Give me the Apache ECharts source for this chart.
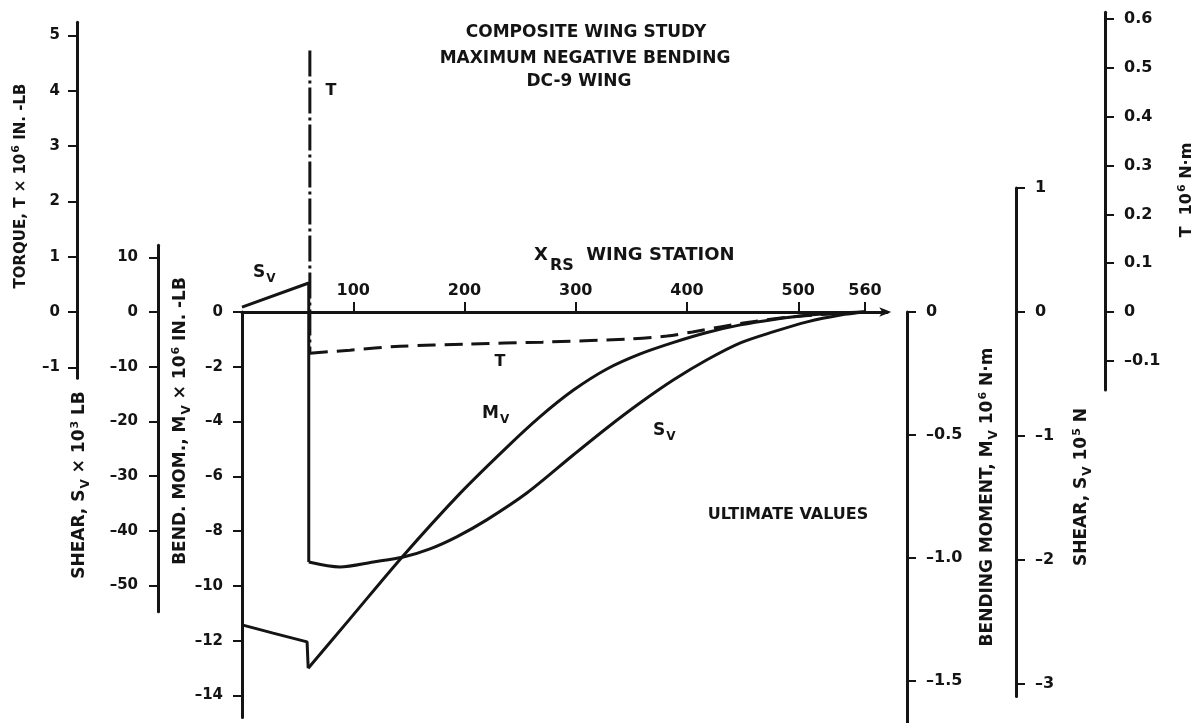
<!DOCTYPE html>
<html>
<head>
<meta charset="utf-8">
<title>Composite Wing Study - DC-9 Wing</title>
<script src="https://cdn.jsdelivr.net/npm/echarts@6/dist/echarts.min.js"></script>
<style>
  html, body { margin: 0; padding: 0; background: #ffffff; }
  #chart { width: 1199px; height: 723px; }
</style>
</head>
<body>
<div id="chart"></div>
<script>
// ---- Spanwise load data (wing station X_RS, inches) ----
const stationTicks = [100, 200, 300, 400, 500, 560];
const stationTickLabels = ['100', '200', '300', '400', '500', '560'];

// Bending moment M_V, 10^6 in-lb  [station, value]
// first four points: inboard segment and the step at the side of body
const momentData = [
  [0, -11.42], [28, -11.72], [58.5, -12.04], [59.5, -13.0], [97, -11.2],
  [144, -8.94], [196, -6.62], [238, -4.94], [268, -3.82], [298, -2.85],
  [328, -2.08], [358, -1.53], [388, -1.11], [418, -0.75], [448, -0.47],
  [478, -0.27], [508, -0.12], [538, -0.04], [560, 0]
];

// Shear S_V, 10^3 lb  [station, value]
// first three points: inboard segment and the step at the side of body
const shearData = [
  [0, 0.9], [60, 5.3], [60, -45.7], [88, -46.6], [118, -45.7], [145, -44.8],
  [169, -43.3], [193, -41.1], [220, -38.0], [256, -33.1],
  [298, -26.1], [328, -21.2], [358, -16.6], [388, -12.4], [418, -8.74],
  [448, -5.65], [478, -3.6], [508, -1.8], [538, -0.55], [560, 0]
];

// Torque T, 10^6 in-lb: concentrated step at the side-of-body station
const torqueStep = [[61, 4.73], [61, -0.745]];
// Torque T, 10^6 in-lb: outboard distribution
const torqueData = [
  [61, -0.745], [97, -0.69], [142, -0.62], [202, -0.58], [270, -0.545],
  [346, -0.49], [382, -0.435], [405, -0.36], [430, -0.27], [459, -0.175],
  [493, -0.09], [528, -0.036], [560, 0]
];

// Tick values and labels of each scale
const momentTicks = [0, -2, -4, -6, -8, -10, -12, -14];
const momentTickLabels = ['0', '\u20132', '\u20134', '\u20136', '\u20138', '\u201310', '\u201312', '\u201314'];
const torqueTicks = [5, 4, 3, 2, 1, 0, -1];
const torqueTickLabels = ['5', '4', '3', '2', '1', '0', '\u20131'];
const shearTicks = [10, 0, -10, -20, -30, -40, -50];
const shearTickLabels = ['10', '0', '\u201310', '\u201320', '\u201330', '\u201340', '\u201350'];
const momentNmTicks = [0, -0.5, -1.0, -1.5];
const momentNmTickLabels = ['0', '\u20130.5', '\u20131.0', '\u20131.5'];
const shearNTicks = [1, 0, -1, -2, -3];
const shearNTickLabels = ['1', '0', '\u20131', '\u20132', '\u20133'];
const torqueNmTicks = [0.6, 0.5, 0.4, 0.3, 0.2, 0.1, 0, -0.1];
const torqueNmTickLabels = ['0.6', '0.5', '0.4', '0.3', '0.2', '0.1', '0', '\u20130.1'];

// ---- Layout ----
const W = 1199, H = 723;
const INK = '#141414';
const FONT = 'DejaVu Sans';
const WEIGHT = 'bold';
const ZERO_Y = 312;          // every scale shares this zero row
const X_LEFT = 242;          // station 0
const X_RIGHT = 887.25;      // station 580 (end of the station axis)
const X_MAX = 580;

// Each scale gets its own grid so that each vertical axis has its own extent
const scales = [
  { min: -14.8, max: 0,     ppu: 27.4,  side: 'left',  axisX: 242,  ticks: momentTicks,   labels: momentTickLabels,   fs: 15, margin: 19 },
  { min: -1.2,  max: 5.24,  ppu: 55.3,  side: 'left',  axisX: 77,   ticks: torqueTicks,   labels: torqueTickLabels,   fs: 15, margin: 17 },
  { min: -54.8, max: 12.2,  ppu: 5.47,  side: 'left',  axisX: 158,  ticks: shearTicks,    labels: shearTickLabels,    fs: 15, margin: 20 },
  { min: -1.67, max: 0,     ppu: 246.5, side: 'right', axisX: 907,  ticks: momentNmTicks, labels: momentNmTickLabels, fs: 16, margin: 19 },
  { min: -3.1,  max: 1.0,   ppu: 124,   side: 'right', axisX: 1016, ticks: shearNTicks,   labels: shearNTickLabels,   fs: 16, margin: 19 },
  { min: -0.16, max: 0.614, ppu: 488,   side: 'right', axisX: 1105, ticks: torqueNmTicks, labels: torqueNmTickLabels, fs: 16, margin: 19 }
];

const grids = scales.map(s => ({
  left: X_LEFT,
  right: W - X_RIGHT,
  top: ZERO_Y - s.max * s.ppu,
  bottom: H - (ZERO_Y - s.min * s.ppu),
  containLabel: false
}));

function lookupLabel(ticks, labels) {
  return function (v) {
    let best = 0, d = Infinity;
    ticks.forEach((t, i) => { const e = Math.abs(t - v); if (e < d) { d = e; best = i; } });
    return labels[best];
  };
}

const yAxes = scales.map((s, i) => ({
  gridIndex: i,
  type: 'value',
  min: s.min,
  max: s.max,
  position: s.side,
  offset: s.side === 'left' ? X_LEFT - s.axisX : s.axisX - X_RIGHT,
  axisLine: { show: true, onZero: false, lineStyle: { color: INK, width: 3 } },
  axisTick: { show: true, customValues: s.ticks, length: 9, lineStyle: { color: INK, width: 2 } },
  axisLabel: {
    show: true, customValues: s.ticks, formatter: lookupLabel(s.ticks, s.labels),
    margin: s.margin, color: INK, fontFamily: FONT, fontWeight: WEIGHT, fontSize: s.fs
  },
  splitLine: { show: false }
}));

const xAxes = scales.map((s, i) => (i === 0 ? {
  gridIndex: 0,
  type: 'value',
  min: 0,
  max: X_MAX,
  position: 'top',
  axisLine: {
    show: true, onZero: false,
    lineStyle: { color: INK, width: 3 },
    symbol: ['none', 'arrow'], symbolSize: [7, 12], symbolOffset: [0, 4]
  },
  axisTick: { show: true, customValues: stationTicks, length: 10, lineStyle: { color: INK, width: 2 } },
  axisLabel: {
    show: true, customValues: stationTicks, formatter: lookupLabel(stationTicks, stationTickLabels),
    margin: 13, color: INK, fontFamily: FONT, fontWeight: WEIGHT, fontSize: 16
  },
  splitLine: { show: false }
} : {
  gridIndex: i, type: 'value', min: 0, max: X_MAX, show: false
}));

// ---- Text ----
const rich = {
  sub: { fontFamily: FONT, fontWeight: WEIGHT, fontSize: 12, fill: INK, padding: [11, 0, 0, 1] },
  sup: { fontFamily: FONT, fontWeight: WEIGHT, fontSize: 11, fill: INK, padding: [0, 0, 10, 1] },
  big: { fontFamily: FONT, fontWeight: WEIGHT, fontSize: 16, fill: INK, padding: [21, 0, 0, 2] }
};

function txt(x, y, text, fontSize, opts) {
  opts = opts || {};
  return {
    type: 'text',
    x: x, y: y,
    rotation: opts.rotate ? Math.PI / 2 : 0,
    silent: true,
    style: {
      text: text,
      fill: INK,
      fontFamily: FONT,
      fontWeight: WEIGHT,
      fontSize: fontSize,
      align: opts.align || 'center',
      verticalAlign: 'middle',
      rich: rich
    }
  };
}

const graphics = [
  txt(586, 32.5, 'COMPOSITE WING STUDY', 17),
  txt(585, 58.5, 'MAXIMUM NEGATIVE BENDING', 17),
  txt(579, 81.5, 'DC-9 WING', 17),
  txt(534, 255, 'X{big|RS}  WING STATION', 18, { align: 'left' }),
  txt(788, 515, 'ULTIMATE VALUES', 16),

  txt(253, 273, 'S{sub|V}', 17, { align: 'left' }),
  txt(331, 91, 'T', 16),
  txt(500, 362, 'T', 16),
  txt(482, 414, 'M{sub|V}', 17, { align: 'left' }),
  txt(653, 431, 'S{sub|V}', 17, { align: 'left' }),

  txt(21, 186, 'TORQUE, T \u00d7 10{sup|6} IN. -LB', 15, { rotate: true }),
  txt(80, 485, 'SHEAR, S{sub|V} \u00d7 10{sup|3} LB', 17, { rotate: true }),
  txt(181, 421, 'BEND. MOM., M{sub|V} \u00d7 10{sup|6} IN. -LB', 17, { rotate: true }),
  txt(988, 497, 'BENDING MOMENT, M{sub|V} 10{sup|6} N\u00b7m', 17, { rotate: true }),
  txt(1082, 487, 'SHEAR, S{sub|V} 10{sup|5} N', 17, { rotate: true }),
  txt(1187, 190, 'T  10{sup|6} N\u00b7m', 16, { rotate: true })
];

const lineBase = { type: 'line', symbol: 'none', showSymbol: false, clip: false, silent: true };
const solid = { color: INK, width: 3 };

const option = {
  animation: false,
  backgroundColor: '#ffffff',
  grid: grids,
  xAxis: xAxes,
  yAxis: yAxes,
  series: [
    // bending moment: straight inboard part with step, smooth outboard curve
    Object.assign({}, lineBase, { name: 'M_V root', xAxisIndex: 0, yAxisIndex: 0, data: momentData.slice(0, 4), lineStyle: solid }),
    Object.assign({}, lineBase, { name: 'M_V', xAxisIndex: 0, yAxisIndex: 0, data: momentData.slice(3), smooth: 0.3, lineStyle: solid }),
    // shear: straight inboard part with step, smooth outboard curve
    Object.assign({}, lineBase, { name: 'S_V root', xAxisIndex: 2, yAxisIndex: 2, data: shearData.slice(0, 3), lineStyle: solid }),
    Object.assign({}, lineBase, { name: 'S_V', xAxisIndex: 2, yAxisIndex: 2, data: shearData.slice(2), smooth: 0.3, lineStyle: solid }),
    // torque
    Object.assign({}, lineBase, { name: 'T', xAxisIndex: 1, yAxisIndex: 1, data: torqueData, smooth: 0.3, lineStyle: { color: INK, width: 3, type: [18, 9] } }),
    Object.assign({}, lineBase, { name: 'T step', xAxisIndex: 1, yAxisIndex: 1, data: torqueStep, lineStyle: { color: INK, width: 3, type: [26, 4, 3, 4] } })
  ],
  graphic: graphics
};

const chart = echarts.init(document.getElementById('chart'), null, { renderer: 'canvas', width: W, height: H });
chart.setOption(option);
</script>
</body>
</html>
